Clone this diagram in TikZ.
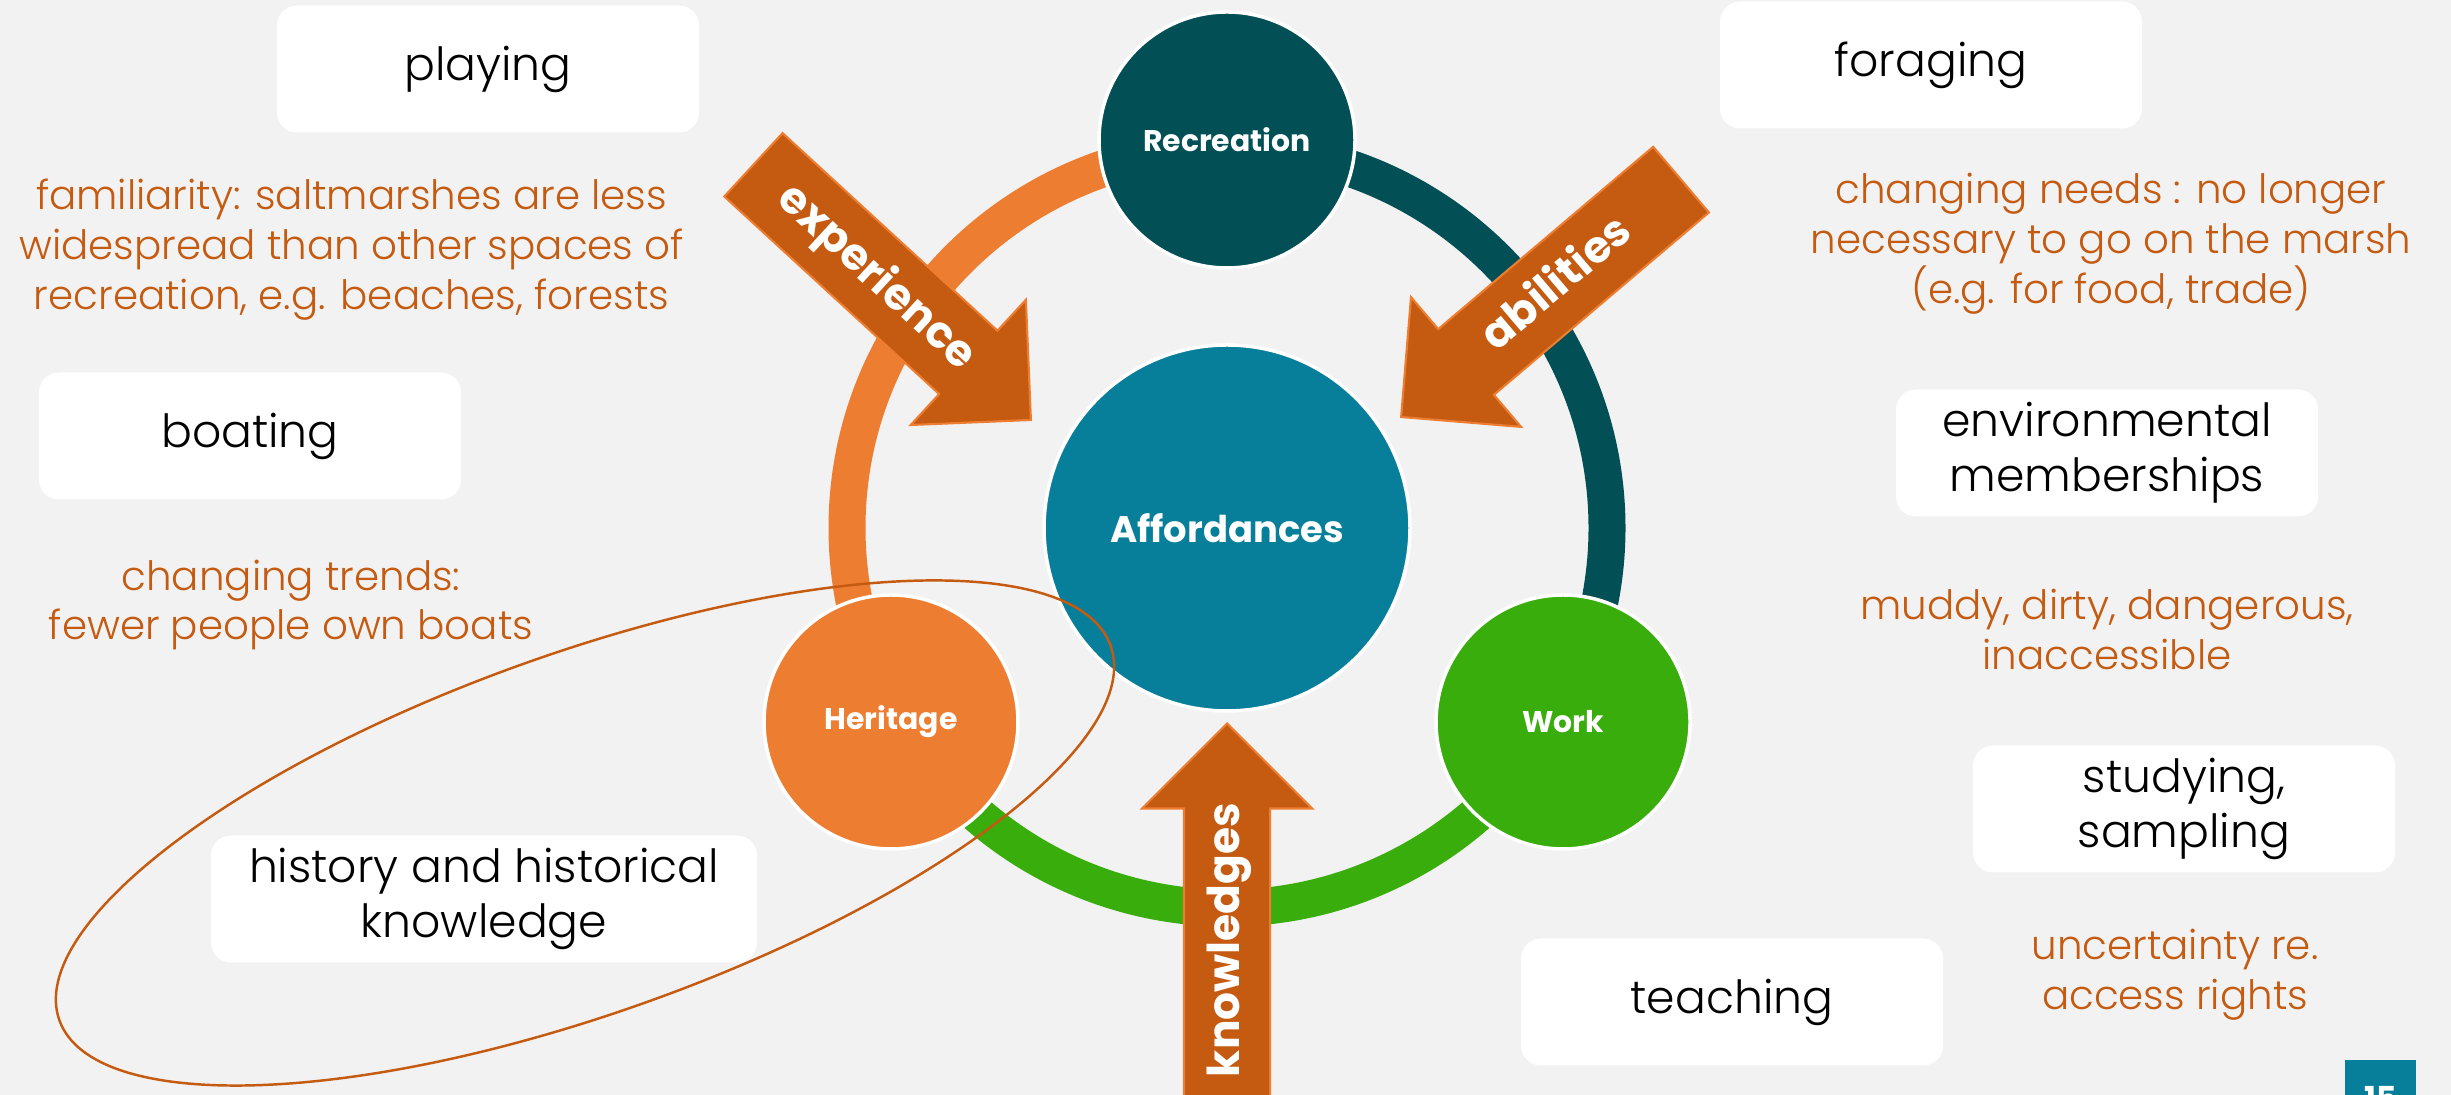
\documentclass[tikz,border=0pt]{standalone}
\usepackage{xcolor}
\usepackage{tikz}
\usepackage{fontspec}
\IfFontExistsTF{Poppins Light}
    {\setmainfont{Poppins}[UprightFont={* Light}, BoldFont={* Bold}]}
    {\setmainfont{Poppins}}
\usetikzlibrary{shapes.arrows}

\definecolor{fondo}{HTML}{F2F2F2}
\definecolor{naranja}{HTML}{ED7D31}
\definecolor{naranjaosc}{HTML}{C55A11}
\definecolor{petroleo}{HTML}{024F55}
\definecolor{azul}{HTML}{077E9A}
\definecolor{verde}{HTML}{38AD0B}

\tikzset{
    caja/.style={fill=white, rounded corners=0.2cm, minimum width=4.22cm,
        minimum height=1.27cm, inner ysep=1pt, align=center,
        font=\fontsize{13}{15.6}\selectfont},
    nota/.style={text=naranjaosc, align=center,
        font=\fontsize{11.5}{14.2}\selectfont},
    circulo/.style={circle, draw=white, line width=1pt, text=white,
        font=\bfseries\fontsize{8.5}{10}\selectfont},
    flecha/.style={single arrow, fill=naranjaosc, draw=naranja, line width=0.6pt,
        single arrow tip angle=90, single arrow head extend=0.42cm,
        inner ysep=0pt, text height=0.545cm, text depth=0.295cm,
        text=white, font=\bfseries\fontsize{12.5}{13}\selectfont, anchor=tip},
    anillo/.style={line width=0.37cm}
}

\begin{document}
\begin{tikzpicture}

    % Marco y fondo gris
    \clip (0,0) rectangle (24.51,10.95);
    \fill[fondo] (0,0) rectangle (24.51,10.95);

    \coordinate (centro) at (12.27,5.67);

    % Anillo en tres tramos
    \draw[anillo, naranja] ([shift={(90:3.8)}]centro) arc[start angle=90, end angle=210, radius=3.8];
    \draw[anillo, petroleo] ([shift={(90:3.8)}]centro) arc[start angle=90, end angle=-30, radius=3.8];
    \draw[anillo, verde] ([shift={(210:3.8)}]centro) arc[start angle=210, end angle=330, radius=3.8];

    % Circulos
    \node[circulo, fill=azul, minimum size=3.66cm, font=\bfseries\fontsize{10.5}{12}\selectfont] (afford) at (centro) {Affordances};
    \node[circulo, fill=petroleo, minimum size=2.56cm] (recreo) at ([shift={(90:3.88)}]centro) {Recreation};
    \node[circulo, fill=naranja, minimum size=2.54cm] (herencia) at ([shift={(210:3.88)}]centro) {Heritage};
    \node[circulo, fill=verde, minimum size=2.54cm] (trabajo) at ([shift={(330:3.88)}]centro) {Work};

    % Flechas hacia el centro
    \node[flecha, minimum height=3.77cm, rotate=-42.6] (experiencia) at (10.32,6.74) {experience};
    \node[flecha, minimum height=3.67cm, rotate=40.3, shape border rotate=180] (habilidades) at (14.0,6.77) {abilities};
    \node[flecha, minimum height=3.9cm, rotate=90] (saberes) at (12.27,3.73) {knowledges};

    % Cajas blancas
    \node[caja] (jugar) at (4.88,10.26) {playing};
    \node[caja] (recolectar) at (19.31,10.30) {foraging};
    \node[caja] (navegar) at (2.50,6.59) {boating};
    \node[caja] (membresias) at (21.07,6.42) {environmental\\memberships};
    \node[caja] (estudiar) at (21.84,2.86) {studying,\\sampling};
    \node[caja, minimum width=5.46cm] (historia) at (4.84,1.96) {history and historical\\knowledge};
    \node[caja] (ensenar) at (17.32,0.93) {teaching};

    % Notas naranjas
    \node[nota] (familiaridad) at (3.515,8.45) {familiarity: saltmarshes are less\\widespread than other spaces of\\recreation, e.g. beaches, forests};
    \node[nota] (tendencias) at (2.91,4.90) {changing trends:\\fewer people own boats};
    \node[nota] (necesidades) at (21.11,8.51) {changing needs : no longer\\necessary to go on the marsh\\(e.g. for food, trade)};
    \node[nota] (barro) at (21.07,4.655) {muddy, dirty, dangerous,\\inaccessible};
    \node[nota] (derechos) at (21.75,1.20) {uncertainty re.\\access rights};

    % Elipse alrededor de la historia
    \draw[naranjaosc, line width=0.7pt, rotate around={19.6:(5.85,2.62)}] (5.85,2.62) ellipse (5.58 and 1.80);

    % Numero de pagina
    \fill[azul] (23.45,-0.1) rectangle (24.16,0.35);
    \node[text=white, inner sep=0pt, anchor=north, font=\bfseries\fontsize{9}{9}\selectfont] (pagina) at (23.805,0.09) {15};

\end{tikzpicture}
\end{document}
